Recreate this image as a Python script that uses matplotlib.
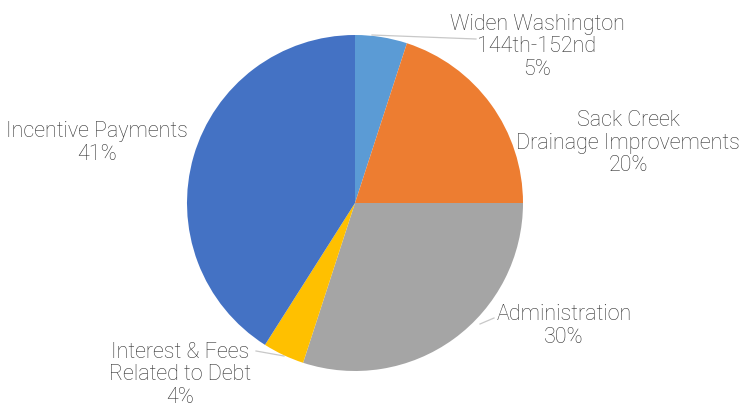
import matplotlib
matplotlib.use("Agg")
import matplotlib.pyplot as plt

# Share of spending by project
labels = [
    "Widen Washington\n144th-152nd",
    "Sack Creek\nDrainage Improvements",
    "Administration",
    "Interest & Fees\nRelated to Debt",
    "Incentive Payments",
]
shares = [5, 20, 30, 4, 41]
colors = ["#5B9BD5", "#ED7D31", "#A5A5A5", "#FFC000", "#4472C4"]

# label anchor points (pixel space, y measured from the top)
label_xy = [(537, 47), (628, 143), (564, 326), (180, 375), (97, 143)]

W, H = 742, 408
CX, CY, R = 355, 203, 168
TEXT = "#333333"

fig = plt.figure(figsize=(W / 100, H / 100), dpi=100)
ax = fig.add_axes([0, 0, 1, 1])

ax.pie(shares, colors=colors, startangle=90, counterclock=False,
       center=(CX, H - CY), radius=R,
       wedgeprops=dict(linewidth=0))
ax.set_xlim(0, W)
ax.set_ylim(0, H)
ax.set_aspect("equal")
ax.axis("off")

# faint leader lines
leaders = [
    [(372, 35), (476, 39)],
    [(480, 324), (494, 318)],
    [(256, 351), (284, 356)],
]
for pts in leaders:
    xs = [p[0] for p in pts]
    ys = [H - p[1] for p in pts]
    ax.plot(xs, ys, color="#c8c8c8", lw=0.9, zorder=0)

for lab, pct, (x, y) in zip(labels, shares, label_xy):
    ax.text(x, H - y, f"{lab}\n{pct}%", ha="center", va="center",
            fontsize=15.5, family="Roboto", fontweight="light",
            color=TEXT, linespacing=1.1)

fig.savefig("out.png", dpi=100)
